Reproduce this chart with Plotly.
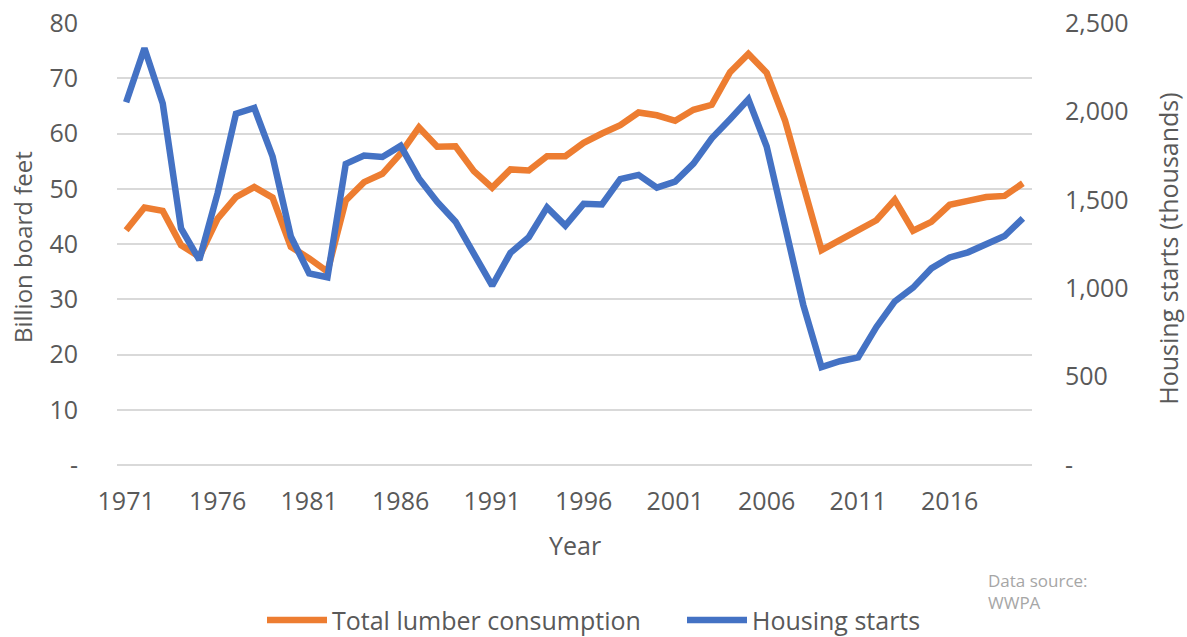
import plotly.graph_objects as go

years = list(range(1971, 2021))

lumber_bbf = [42.5, 46.6, 46.0, 39.8, 37.7, 44.6, 48.5, 50.3, 48.4, 39.5,
              37.4, 35.0, 47.9, 51.2, 52.7, 56.4, 61.1, 57.6, 57.7, 53.2,
              50.2, 53.5, 53.3, 55.9, 55.9, 58.3, 60.0, 61.5, 63.8, 63.3,
              62.3, 64.3, 65.2, 71.1, 74.4, 71.0, 62.4, 50.3, 38.9, 40.7,
              42.5, 44.3, 48.0, 42.4, 44.0, 47.1, 47.8, 48.5, 48.7, 51.0]

housing_starts_k = [2052, 2357, 2045, 1338, 1160, 1538, 1987, 2020, 1745, 1292,
                    1084, 1062, 1703, 1750, 1742, 1805, 1621, 1488, 1376, 1193,
                    1014, 1200, 1288, 1457, 1354, 1477, 1474, 1617, 1641, 1569,
                    1603, 1705, 1848, 1956, 2068, 1801, 1355, 906, 554, 587,
                    609, 781, 925, 1003, 1112, 1174, 1203, 1250, 1295, 1395]

x_ticks = [1971, 1976, 1981, 1986, 1991, 1996, 2001, 2006, 2011, 2016]
left_ticks = [0, 10, 20, 30, 40, 50, 60, 70, 80]
left_labels = ["-", "10", "20", "30", "40", "50", "60", "70", "80"]
right_ticks = [0, 500, 1000, 1500, 2000, 2500]
right_labels = ["-", "500", "1,000", "1,500", "2,000", "2,500"]

FONT = "Open Sans"
TXT = "#595959"
FS = 25

fig = go.Figure()
fig.add_trace(go.Scatter(
    x=years, y=lumber_bbf, name="Total lumber consumption", mode="lines",
    line=dict(color="#ED7D31", width=6.5), yaxis="y"))
fig.add_trace(go.Scatter(
    x=years, y=housing_starts_k, name="Housing starts", mode="lines",
    line=dict(color="#4472C4", width=6.5), yaxis="y2"))

fig.update_layout(
    width=1187, height=637,
    margin=dict(l=117, r=155, t=23, b=172, autoexpand=False),
    paper_bgcolor="white", plot_bgcolor="white",
    font=dict(family=FONT, size=FS, color=TXT),
    showlegend=True,
    legend=dict(orientation="h", x=(262 - 117) / 915, xanchor="left",
                y=-0.351, yanchor="middle", font=dict(size=FS, color=TXT),
                itemwidth=60, entrywidth=345, entrywidthmode="pixels",
                bgcolor="rgba(0,0,0,0)"),
    xaxis=dict(range=[1970.5, 2020.5], tickvals=x_ticks, showgrid=False,
               zeroline=False, showline=False, ticks="",
               ticklabelstandoff=19, ticklabeloverflow="allow",
               tickfont=dict(size=FS, color=TXT)),
    yaxis=dict(range=[0, 80], tickvals=left_ticks, ticktext=left_labels,
               showgrid=True, gridcolor="#D9D9D9", gridwidth=1.5,
               zeroline=True, zerolinecolor="#D9D9D9", zerolinewidth=1.5,
               showline=False, ticks="", ticklabelstandoff=38,
               ticklabeloverflow="allow",
               tickfont=dict(size=FS, color=TXT)),
    yaxis2=dict(range=[0, 2500], tickvals=right_ticks, ticktext=right_labels,
                overlaying="y", side="right", showgrid=False, zeroline=False,
                showline=False, ticks="", ticklabelstandoff=32,
                ticklabeloverflow="allow",
                tickfont=dict(size=FS, color=TXT)),
    annotations=[
        dict(text="Year", xref="paper", yref="paper", x=0.5005, y=-0.181,
             xanchor="center", yanchor="middle", showarrow=False,
             font=dict(size=FS, color=TXT)),
        dict(text="Billion board feet", xref="paper", yref="paper",
             x=(22 - 117) / 915, y=0.493, xanchor="center", yanchor="middle",
             textangle=-90, showarrow=False, font=dict(size=24, color=TXT)),
        dict(text="Housing starts (thousands)", xref="paper", yref="paper",
             x=1.149, y=0.49, xanchor="center", yanchor="middle",
             textangle=-90, showarrow=False, font=dict(size=FS, color=TXT)),
        dict(text="Data source:<br>WWPA", xref="paper", yref="paper",
             x=(986 - 117) / 915, y=(465 - 591) / 442, xanchor="left",
             yanchor="middle", align="left", showarrow=False,
             font=dict(size=17, color="#A6A6A6")),
    ],
)

fig.write_html("out.html", config={"displayModeBar": False},
               post_script="document.body.style.margin='0px';")
